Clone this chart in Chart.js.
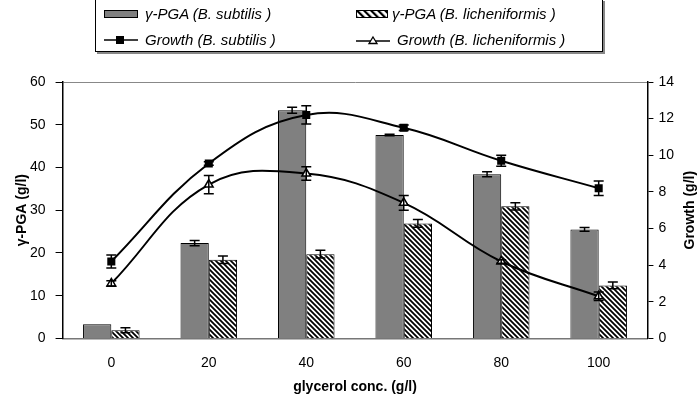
<!DOCTYPE html>
<html>
<head>
<meta charset="utf-8">
<script src="https://cdn.jsdelivr.net/npm/chart.js@4.4.1/dist/chart.umd.min.js"></script>
<style>
  body { margin: 0; background: #fff; }
  #wrap { position: relative; width: 700px; height: 400px; }
  #legend {
    position: absolute; left: 95px; top: -1px; width: 506px; height: 51px;
    border: 1px solid #000; background: #fff; box-shadow: 2px 2px 0 #888;
    font-family: "Liberation Sans", Arial, sans-serif; font-style: italic; font-size: 15px;
  }
  .item { position: absolute; height: 20px; line-height: 20px; white-space: nowrap; }
  .item svg { position: absolute; top: 0; }
  .item span { position: absolute; top: 0; }
</style>
</head>
<body>
<div id="wrap">
  <canvas id="chart" width="700" height="400"></canvas>
  <div id="legend">
    <div class="item" style="left:8px; top:4px;">
      <svg width="34" height="20"><rect x="0.5" y="6.5" width="33" height="7" fill="#808080" stroke="#000"/></svg>
      <span style="left:41px">γ-PGA (B. subtilis )</span>
    </div>
    <div class="item" style="left:260px; top:4px;">
      <svg width="34" height="20">
        <defs><pattern id="h" width="5" height="5" patternUnits="userSpaceOnUse" patternTransform="rotate(-45)">
          <rect width="5" height="5" fill="#fff"/><rect width="2.2" height="5" fill="#000"/></pattern></defs>
        <rect x="0.5" y="6.5" width="31" height="7" fill="url(#h)" stroke="#000"/></svg>
      <span style="left:36px">γ-PGA (B. licheniformis )</span>
    </div>
    <div class="item" style="left:8px; top:30px;">
      <svg width="34" height="20"><line x1="0" y1="10" x2="34" y2="10" stroke="#000" stroke-width="1.5"/><rect x="12" y="6" width="8" height="8" fill="#000"/></svg>
      <span style="left:41px">Growth (B. subtilis )</span>
    </div>
    <div class="item" style="left:260px; top:30px;">
      <svg width="34" height="20"><line x1="0" y1="11" x2="34" y2="11" stroke="#000" stroke-width="1.5"/><polygon points="17,7 21,13.5 13,13.5" fill="#fff" stroke="#000" stroke-width="1.3"/></svg>
      <span style="left:41px">Growth (B. licheniformis )</span>
    </div>
  </div>
</div>
<script>
  var categories = ['0', '20', '40', '60', '80', '100'];

  var pgaSubtilis         = [3.3, 22.3, 53.4, 47.6, 38.4, 25.5];
  var pgaSubtilisErr      = [0, 0.6, 0.7, 0.15, 0.6, 0.45];
  var pgaLicheniformis    = [1.9, 18.4, 19.7, 26.9, 30.9, 12.4];
  var pgaLicheniformisErr = [0.6, 0.9, 0.9, 0.9, 0.85, 0.8];

  var growthSubtilis         = [4.2, 9.55, 12.2, 11.5, 9.7, 8.2];
  var growthSubtilisErr      = [0.35, 0.1, 0.5, 0.15, 0.3, 0.4];
  var growthLicheniformis    = [3.0, 8.4, 9.0, 7.4, 4.2, 2.3];
  var growthLicheniformisErr = [0.15, 0.5, 0.37, 0.4, 0.1, 0.23];

  var pgaTicks = [0, 10, 20, 30, 40, 50, 60];
  var growthTicks = [0, 2, 4, 6, 8, 10, 12, 14];

  Chart.defaults.font.family = '"Liberation Sans", Arial, sans-serif';
  Chart.defaults.color = '#000';

  var ctx = document.getElementById('chart').getContext('2d');

  // diagonal hatch for the licheniformis bars
  function makeHatch() {
    var c = document.createElement('canvas');
    c.width = 5; c.height = 5;
    var g = c.getContext('2d');
    g.fillStyle = '#fff';
    g.fillRect(0, 0, 5, 5);
    g.strokeStyle = '#000';
    g.lineWidth = 1.8;
    g.beginPath();
    g.moveTo(-1, -1); g.lineTo(6, 6);
    g.moveTo(-1, 4); g.lineTo(1, 6);
    g.moveTo(4, -1); g.lineTo(6, 1);
    g.stroke();
    return ctx.createPattern(c, 'repeat');
  }

  var errorBars = {
    id: 'errorBars',
    afterDatasetsDraw: function(chart) {
      var c = chart.ctx;
      c.save();
      c.strokeStyle = '#000';
      c.lineWidth = 1.5;
      chart.data.datasets.forEach(function(ds, di) {
        if (!ds.errors) return;
        var meta = chart.getDatasetMeta(di);
        var scale = chart.scales[meta.yAxisID];
        meta.data.forEach(function(el, i) {
          var e = ds.errors[i];
          if (!e) return;
          var x = el.x;
          var y1 = scale.getPixelForValue(ds.data[i] + e);
          var y2 = scale.getPixelForValue(ds.data[i] - e);
          c.beginPath();
          c.moveTo(x, y1); c.lineTo(x, y2);
          c.moveTo(x - 5, y1); c.lineTo(x + 5, y1);
          c.moveTo(x - 5, y2); c.lineTo(x + 5, y2);
          c.stroke();
        });
      });
      c.restore();
    }
  };

  // both y titles read bottom-to-top, so draw them by hand
  var sideTitles = {
    id: 'sideTitles',
    afterDraw: function(chart) {
      var c = chart.ctx;
      var a = chart.chartArea;
      var mid = (a.top + a.bottom) / 2;
      c.save();
      c.font = 'bold 14px "Liberation Sans", Arial, sans-serif';
      c.fillStyle = '#000';
      c.textAlign = 'center';
      c.textBaseline = 'middle';
      c.translate(22, mid);
      c.rotate(-Math.PI / 2);
      c.fillText('γ-PGA (g/l)', 0, 0);
      c.restore();
      c.save();
      c.font = 'bold 14px "Liberation Sans", Arial, sans-serif';
      c.fillStyle = '#000';
      c.textAlign = 'center';
      c.textBaseline = 'middle';
      c.translate(690, mid);
      c.rotate(-Math.PI / 2);
      c.fillText('Growth (g/l)', 0, 0);
      c.restore();
    }
  };

  new Chart(ctx, {
    type: 'bar',
    data: {
      labels: categories,
      datasets: [{
        type: 'line',
        label: 'Growth (B. subtilis )',
        data: growthSubtilis,
        errors: growthSubtilisErr,
        yAxisID: 'y1',
        borderColor: '#000',
        borderWidth: 2,
        tension: 0.4,
        pointStyle: 'rect',
        pointRadius: 5.7,
        pointBackgroundColor: '#000',
        pointBorderColor: '#000',
        pointBorderWidth: 0,
        order: 0
      }, {
        type: 'line',
        label: 'Growth (B. licheniformis )',
        data: growthLicheniformis,
        errors: growthLicheniformisErr,
        yAxisID: 'y1',
        borderColor: '#000',
        borderWidth: 2,
        tension: 0.4,
        pointStyle: 'triangle',
        pointRadius: 5,
        pointBackgroundColor: '#fff',
        pointBorderColor: '#000',
        pointBorderWidth: 1.5,
        order: 0
      }, {
        label: 'γ-PGA (B. subtilis )',
        data: pgaSubtilis,
        errors: pgaSubtilisErr,
        yAxisID: 'y',
        backgroundColor: '#808080',
        borderColor: '#000',
        borderWidth: 1,
        categoryPercentage: 0.58,
        barPercentage: 1,
        order: 1
      }, {
        label: 'γ-PGA (B. licheniformis )',
        data: pgaLicheniformis,
        errors: pgaLicheniformisErr,
        yAxisID: 'y',
        backgroundColor: makeHatch(),
        borderColor: '#000',
        borderWidth: 1,
        categoryPercentage: 0.58,
        barPercentage: 1,
        order: 1
      }]
    },
    options: {
      responsive: false,
      animation: false,
      layout: { padding: { top: 82, left: 20, right: 21, bottom: 2 } },
      plugins: {
        legend: { display: false },
        tooltip: { enabled: false }
      },
      scales: {
        x: {
          grid: { display: false },
          border: { color: '#777', width: 1.5 },
          ticks: { padding: 8, font: { size: 14 } },
          title: {
            display: true, text: 'glycerol conc. (g/l)',
            font: { size: 14, weight: 'bold' },
            padding: { top: 0, bottom: 2 }
          }
        },
        y: {
          position: 'left',
          min: 0, max: 60,
          afterBuildTicks: function(s) { s.ticks = pgaTicks.map(function(v) { return { value: v }; }); },
          grid: {
            color: function(c) { return c.tick && c.tick.value === 60 ? '#888' : 'rgba(0,0,0,0)'; },
            tickColor: '#000', tickLength: 7
          },
          border: { color: '#000', width: 1.5 },
          ticks: { padding: 10, font: { size: 14 } }
        },
        y1: {
          position: 'right',
          min: 0, max: 14,
          afterBuildTicks: function(s) { s.ticks = growthTicks.map(function(v) { return { value: v }; }); },
          grid: { drawOnChartArea: false, tickColor: '#000', tickLength: 6 },
          border: { color: '#000', width: 1.5 },
          ticks: { padding: 5, font: { size: 14 } }
        }
      }
    },
    plugins: [errorBars, sideTitles]
  });
</script>
</body>
</html>
